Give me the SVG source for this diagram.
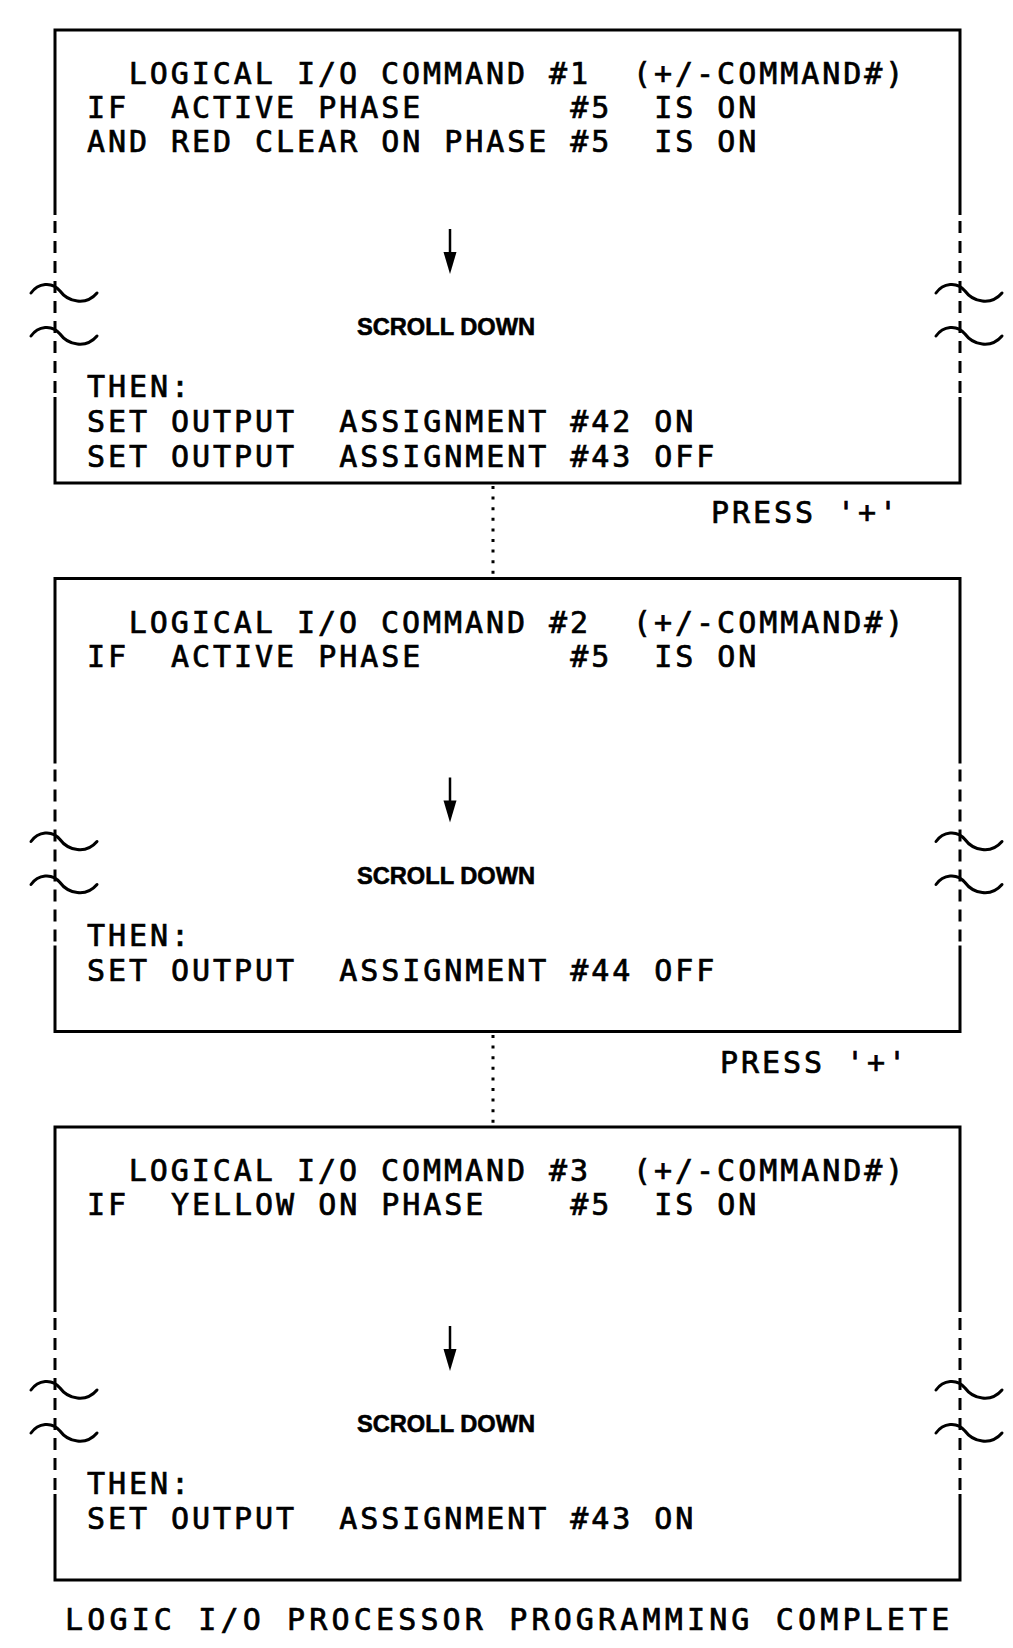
<svg xmlns="http://www.w3.org/2000/svg" xmlns:xlink="http://www.w3.org/1999/xlink" width="1013" height="1648" viewBox="0 0 1013 1648">
<style>
.frame{fill:none;stroke:#000;stroke-width:3;stroke-linejoin:miter}
.dash{fill:none;stroke:#000;stroke-width:3;stroke-dasharray:12 8}
.tilde{fill:none;stroke:#000;stroke-width:3;stroke-linecap:round}
.t{font-family:"DejaVu Sans Mono","Liberation Mono",monospace;font-size:30px;letter-spacing:2.95px;white-space:pre;fill:#000;stroke:#000;stroke-width:0.7}
.tb{font-family:"DejaVu Sans Mono","Liberation Mono",monospace;font-size:30px;letter-spacing:4.15px;white-space:pre;fill:#000;stroke:#000;stroke-width:0.7}
.sd{font-family:"Liberation Sans",Arial,sans-serif;font-weight:bold;font-size:24px;fill:#000;stroke:#000;stroke-width:0.6}
.shaft{stroke:#000;stroke-width:2.5}
.dot{fill:none;stroke:#000;stroke-width:3;stroke-dasharray:3 7.6}
</style>
<defs>
<path id="tl" class="tilde" d="M-24,0 C-17,-10 -3,-12 5,-2 C13,9 31,13 42,0"/>
<g id="frame">
<path class="frame" d="M55,215 V30 H960 V215"/>
<path class="frame" d="M55,397 V483 H960 V397"/>
<path class="dash" d="M55,221 V394 M960,221 V394"/>
<use xlink:href="#tl" x="55" y="293"/>
<use xlink:href="#tl" x="55" y="336"/>
<use xlink:href="#tl" x="960" y="293"/>
<use xlink:href="#tl" x="960" y="336"/>
<line class="shaft" x1="450" y1="229" x2="450" y2="256"/>
<path d="M443.5,252 L456.5,252 L450,274 Z" fill="#000"/>
<text class="sd" x="357" y="335" textLength="178" lengthAdjust="spacingAndGlyphs">SCROLL DOWN</text>
</g>
</defs>
<g id="command1">
<use xlink:href="#frame"/>
<text class="t" xml:space="preserve" x="128.8" y="84">LOGICAL I/O COMMAND #1  (+/-COMMAND#)</text>
<text class="t" xml:space="preserve" x="87" y="118">IF  ACTIVE PHASE       #5  IS ON</text>
<text class="t" xml:space="preserve" x="87" y="152">AND RED CLEAR ON PHASE #5  IS ON</text>
<text class="t" xml:space="preserve" x="87" y="397">THEN:</text>
<text class="t" xml:space="preserve" x="87" y="432">SET OUTPUT  ASSIGNMENT #42 ON</text>
<text class="t" xml:space="preserve" x="87" y="467">SET OUTPUT  ASSIGNMENT #43 OFF</text>
</g>
<g id="command2" transform="translate(0,548.5)">
<use xlink:href="#frame"/>
<text class="t" xml:space="preserve" x="128.8" y="84">LOGICAL I/O COMMAND #2  (+/-COMMAND#)</text>
<text class="t" xml:space="preserve" x="87" y="118">IF  ACTIVE PHASE       #5  IS ON</text>
<text class="t" xml:space="preserve" x="87" y="397">THEN:</text>
<text class="t" xml:space="preserve" x="87" y="432">SET OUTPUT  ASSIGNMENT #44 OFF</text>
</g>
<g id="command3" transform="translate(0,1097)">
<use xlink:href="#frame"/>
<text class="t" xml:space="preserve" x="128.8" y="84">LOGICAL I/O COMMAND #3  (+/-COMMAND#)</text>
<text class="t" xml:space="preserve" x="87" y="118">IF  YELLOW ON PHASE    #5  IS ON</text>
<text class="t" xml:space="preserve" x="87" y="397">THEN:</text>
<text class="t" xml:space="preserve" x="87" y="432">SET OUTPUT  ASSIGNMENT #43 ON</text>
</g>
<g id="connectors">
<line class="dot" x1="493" y1="486" x2="493" y2="576"/>
<line class="dot" x1="493" y1="1035" x2="493" y2="1124"/>
</g>
<g id="labels">
<text class="t" xml:space="preserve" x="711" y="523">PRESS '+'</text>
<text class="t" xml:space="preserve" x="720" y="1073">PRESS '+'</text>
<text class="tb" xml:space="preserve" x="65" y="1630">LOGIC I/O PROCESSOR PROGRAMMING COMPLETE</text>
</g>
</svg>
